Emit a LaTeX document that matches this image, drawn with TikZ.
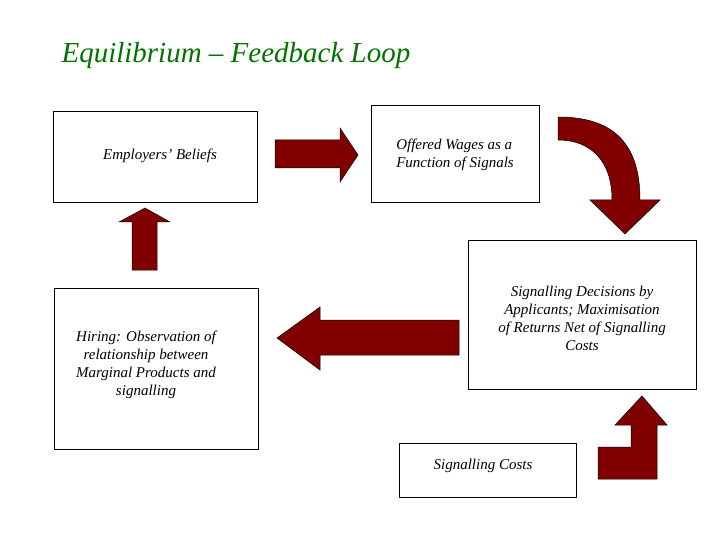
\documentclass[tikz,border=0pt]{standalone}
\usepackage{fontspec}
\setmainfont{Liberation Serif}
\begin{document}
\begin{tikzpicture}[x=1pt,y=-1pt,
 box/.style={draw=black,line width=0.6pt,fill=white},
 txt/.style={font=\fontsize{15}{18}\selectfont\itshape,align=center},
 arr/.style={draw=black,line width=0.5pt,fill=red!50!black}]
\useasboundingbox (0,0) rectangle (720,540);
\node[anchor=west,text=green!45!black,font=\fontsize{29}{32}\selectfont\itshape] (title) at (58,56) {Equilibrium -- Feedback Loop};
\draw[box] (53,111) rectangle (257,202);
\node[txt] (eb) at (160,156) {Employers' Beliefs};
\draw[box] (371,105) rectangle (539,202);
\node[txt,align=left] (ow) at (455,155) {Offered Wages as a\\Function of Signals};
\draw[box] (468,240) rectangle (696,389);
\node[txt] (sd) at (582,318) {Signalling Decisions by\\Applicants; Maximisation\\of Returns Net of Signalling\\Costs};
\draw[box] (54,288) rectangle (258,449);
\node[txt] (hi) at (146,365) {Hiring: Observation of\\relationship between\\Marginal Products and\\signalling};
\draw[box] (399,443) rectangle (576,497);
\node[txt] (sc) at (483,466) {Signalling Costs};
% right arrow
\draw[arr] (275,140) -- (340,140) -- (340,128) -- (358,155) -- (340,182) -- (340,168) -- (275,168) -- cycle;
% curved arrow
\draw[arr] (558,117) .. controls (610,117) and (640,140) .. (640,200) -- (660,200) -- (625,234) -- (590,200) -- (612,200) .. controls (612,160) and (590,140) .. (558,140) -- cycle;
% up arrow
\draw[arr] (132,270) -- (132,222) -- (119,222) -- (145,208) -- (170,222) -- (157,222) -- (157,270) -- cycle;
% left arrow
\draw[arr] (459,320) -- (320,320) -- (320,307) -- (277,338) -- (320,370) -- (320,355) -- (459,355) -- cycle;
% bent up arrow
\draw[arr] (598,447) -- (631,447) -- (631,425) -- (615,425) -- (642,396) -- (667,425) -- (657,425) -- (657,479) -- (598,479) -- cycle;
\end{tikzpicture}
\end{document}
